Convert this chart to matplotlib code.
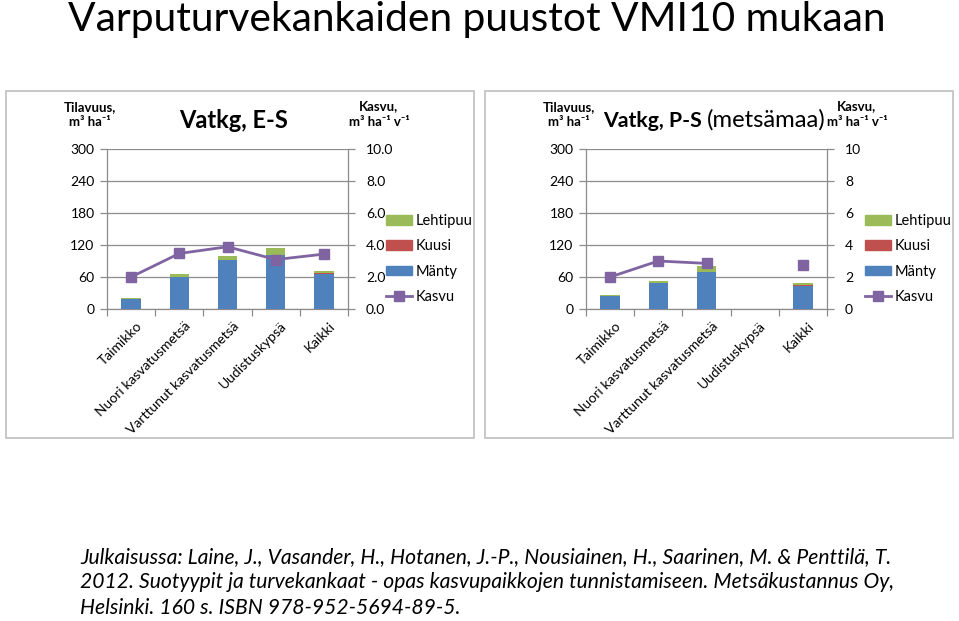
import matplotlib
matplotlib.use('Agg')
import matplotlib.pyplot as plt
import numpy as np
from matplotlib.patches import Patch, Rectangle
from matplotlib.lines import Line2D
import matplotlib.transforms as mtrans

W, H = 959, 621
FONT = ['Lato', 'DejaVu Sans']
plt.rcParams['font.family'] = FONT

categories = ['Taimikko', 'Nuori kasvatusmetsä', 'Varttunut kasvatusmetsä',
              'Uudistuskypsä', 'Kaikki']
series_names = ['Mänty', 'Kuusi', 'Lehtipuu', 'Kasvu']

# Vatkg, E-S
es_manty = [18, 60, 92, 101, 66]
es_kuusi = [0, 0.5, 0.5, 1, 1]
es_lehti = [3, 5, 6.5, 12, 5]
es_kasvu = [2.0, 3.47, 3.89, 3.09, 3.43]

# Vatkg, P-S (metsämaa)
ps_manty = [25, 48, 69, np.nan, 44]
ps_kuusi = [0, 0, 1, np.nan, 0.5]
ps_lehti = [1, 5, 11, np.nan, 5]
ps_kasvu = [2.0, 3.0, 2.85, np.nan, 2.76]

left_ticks = [0, 60, 120, 180, 240, 300]
es_right_ticks = [0, 2, 4, 6, 8, 10]
es_right_labels = ['0.0', '2.0', '4.0', '6.0', '8.0', '10.0']
ps_right_ticks = [0, 2, 4, 6, 8, 10]
ps_right_labels = ['0', '2', '4', '6', '8', '10']

main_title = 'Varputurvekankaiden puustot VMI10 mukaan'
citation = ['Julkaisussa: Laine, J., Vasander, H., Hotanen, J.-P., Nousiainen, H., Saarinen, M. & Penttilä, T.',
            '2012. Suotyypit ja turvekankaat - opas kasvupaikkojen tunnistamiseen. Metsäkustannus Oy,',
            'Helsinki. 160 s. ISBN 978-952-5694-89-5.']

C_MANTY = '#4F81BD'
C_KUUSI = '#C0504D'
C_LEHTI = '#9BBB59'
C_KASVU = '#8064A2'
C_AX = '#8C8C8C'

fig = plt.figure(figsize=(W / 100, H / 100), dpi=100)
fig.patch.set_facecolor('white')


def fx(px):
    return px / W


def fy(py):
    return 1 - py / H


def ftext(x, y, s, **kw):
    return fig.text(fx(x), fy(y), s, transform=fig.transFigure, **kw)


two_part = []


def panel(xo, manty, kuusi, lehti, kasvu, rticks, rlabels, title_bold, title_reg):
    fig.patches.append(Rectangle((fx(6 + xo), fy(438)), 468 / W, (438 - 91) / H,
                                 transform=fig.transFigure, fill=False,
                                 edgecolor='#BFBFBF', lw=1.2))
    ax = fig.add_axes([fx(107 + xo), fy(309), (348 - 107) / W, (309 - 149) / H])
    x = np.arange(len(categories))
    manty = np.array(manty, float)
    kuusi = np.array(kuusi, float)
    lehti = np.array(lehti, float)
    bw = 0.4
    ax.bar(x, manty, bw, color=C_MANTY, zorder=3)
    ax.bar(x, kuusi, bw, bottom=manty, color=C_KUUSI, zorder=3)
    ax.bar(x, lehti, bw, bottom=manty + kuusi, color=C_LEHTI, zorder=3)
    ax.set_xlim(-0.5, len(categories) - 0.5)
    ax.set_ylim(0, 300)
    ax.set_yticks(left_ticks)
    ax.set_yticklabels([str(t) for t in left_ticks])
    ax.yaxis.grid(True, color=C_AX, lw=0.9, zorder=0)
    ax.set_axisbelow(True)
    for s in ['top', 'right']:
        ax.spines[s].set_visible(False)
    for s in ['left', 'bottom']:
        ax.spines[s].set_color(C_AX)
        ax.spines[s].set_linewidth(0.9)
    ax.tick_params(axis='y', length=5, width=0.9, color=C_AX, pad=4,
                   labelsize=10, labelcolor='black')
    ax.set_xticks(x)
    ax.set_xticks(np.arange(-0.5, len(categories), 1.0), minor=True)
    ax.tick_params(axis='x', which='major', length=0, pad=8, labelsize=10)
    ax.tick_params(axis='x', which='minor', length=5, width=0.9, color=C_AX)
    ax.set_xticklabels(categories, rotation=45, ha='right', va='top',
                       rotation_mode='anchor')
    off = mtrans.ScaledTranslation(5 / 100, 0, fig.dpi_scale_trans)
    for lab in ax.get_xticklabels():
        lab.set_transform(lab.get_transform() + off)

    ax2 = ax.twinx()
    ax2.plot(x, kasvu, color=C_KASVU, lw=2.0, marker='s', markersize=7,
             zorder=5)
    ax2.set_ylim(0, 10)
    ax2.set_yticks(rticks)
    ax2.set_yticklabels(rlabels)
    for s in ['top', 'left', 'bottom']:
        ax2.spines[s].set_visible(False)
    ax2.spines['right'].set_color(C_AX)
    ax2.spines['right'].set_linewidth(0.9)
    ax2.tick_params(axis='y', length=5, width=0.9, color=C_AX, pad=8,
                    labelsize=10, labelcolor='black')

    hkw = dict(fontsize=9.5, fontweight='bold', ha='center', va='center')
    ftext(90 + xo, 107, 'Tilavuus,', **hkw)
    ftext(90 + xo, 122, 'm³ ha⁻¹', **hkw)
    kx = 379 + xo if title_reg == '' else 857
    ftext(kx, 106, 'Kasvu,', **hkw)
    ftext(kx, 122, 'm³ ha⁻¹ v⁻¹', **hkw)
    if title_reg == '':
        ftext(234 + xo, 120, title_bold, fontsize=17, fontweight='bold',
              ha='center', va='center')
    else:
        tb = ftext(603, 120, title_bold, fontsize=17, fontweight='bold',
                   ha='left', va='baseline')
        tr = ftext(706, 120, title_reg, fontsize=17, ha='left', va='baseline')
        two_part.append((tb, tr))

    handles = [Patch(color=C_LEHTI, label='Lehtipuu'),
               Patch(color=C_KUUSI, label='Kuusi'),
               Patch(color=C_MANTY, label='Mänty'),
               Line2D([], [], color=C_KASVU, lw=2.0, marker='s', markersize=7,
                      label='Kasvu')]
    fig.legend(handles=handles, loc='upper left',
               bbox_to_anchor=(fx(386 + xo), fy(214)), frameon=False,
               fontsize=10.5, handlelength=1.8, handleheight=0.65,
               handletextpad=0.25, labelspacing=0.78, borderpad=0,
               borderaxespad=0, numpoints=1)
    return ax, ax2


panel(0, es_manty, es_kuusi, es_lehti, es_kasvu, es_right_ticks,
      es_right_labels, 'Vatkg, E-S', '')
panel(479, ps_manty, ps_kuusi, ps_lehti, ps_kasvu, ps_right_ticks,
      ps_right_labels, 'Vatkg, P-S', '(metsämaa)')

t = ftext(68, 31, main_title, fontsize=28, ha='left', va='baseline')
cits = []
for i, line in enumerate(citation):
    cits.append(ftext(80, 563 + i * 25.5, line, fontsize=13, style='italic',
                      ha='left', va='baseline'))

fig.canvas.draw()
r = fig.canvas.get_renderer()
w = t.get_window_extent(r).width
t.set_fontsize(28 * (886 - 68) / w)
w2 = cits[1].get_window_extent(r).width
fs = 13 * (893 - 80) / w2
for c in cits:
    c.set_fontsize(fs)

# two-part panel title: bold part ~603..702 px, regular part ~707..826 px
for tb, tr in two_part:
    wb = tb.get_window_extent(r).width
    tb.set_fontsize(17 * (702 - 603) / wb)
    wr = tr.get_window_extent(r).width
    tr.set_fontsize(17 * (826 - 707) / wr)
    tb.set_position((fx(603), fy(127)))
    tr.set_position((fx(707), fy(127)))

fig.savefig('out.png', dpi=100, facecolor='white')
